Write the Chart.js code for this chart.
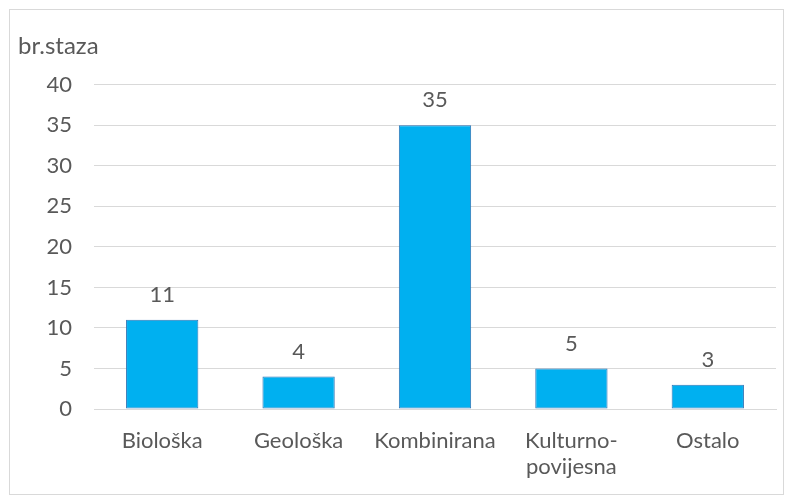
<!DOCTYPE html>
<html>
<head>
<meta charset="utf-8">
<script src="https://cdn.jsdelivr.net/npm/chart.js@4"></script>
<style>
  html, body { margin: 0; padding: 0; background: #fff; }
  #box {
    position: absolute; left: 9px; top: 9px;
    width: 775px; height: 486px;
    border: 1px solid #d9d9d9; box-sizing: border-box;
  }
</style>
</head>
<body>
<div id="box"><canvas id="bar_chart"></canvas></div>
<script>
const categories = ['Biološka', 'Geološka', 'Kombinirana', ['Kulturno-', 'povijesna'], 'Ostalo'];
const brStaza = [11, 4, 35, 5, 3];
const yTicks = [0, 5, 10, 15, 20, 25, 30, 35, 40];

const textColor = '#595959';
const fontFamily = "Lato, 'Open Sans', sans-serif";

// vrijednosti iznad stupaca
const valueLabels = {
    id: 'valueLabels',
    afterDatasetsDraw(chart) {
        const ctx = chart.ctx;
        const meta = chart.getDatasetMeta(0);
        ctx.save();
        ctx.fillStyle = textColor;
        ctx.font = '22px ' + fontFamily;
        ctx.textAlign = 'center';
        ctx.textBaseline = 'middle';
        meta.data.forEach((bar, i) => {
            ctx.fillText(String(brStaza[i]), bar.x, bar.y - 25);
        });
        ctx.restore();
    }
};

const ctx = document.getElementById('bar_chart').getContext('2d');
new Chart(ctx, {
    type: 'bar',
    data: {
        labels: categories,
        datasets: [{
            label: 'br.staza',
            data: brStaza,
            backgroundColor: '#00b0f0',
            borderColor: '#2e75b6',
            borderWidth: 1,
            borderSkipped: false, // rub na sve četiri strane
            barPercentage: 0.53,
            categoryPercentage: 1.0,
        }]
    },
    options: {
        responsive: true,
        maintainAspectRatio: false,
        animation: false,
        layout: { padding: { left: 8, right: 7, top: 0, bottom: 0 } },
        plugins: {
            legend: { display: false },
            tooltip: { enabled: false },
            title: {
                display: true,
                text: 'br.staza',
                align: 'start',
                color: textColor,
                font: { family: fontFamily, size: 24, weight: 'normal', lineHeight: 1.2 },
                padding: { top: 22, bottom: 24 },
            }
        },
        scales: {
            x: {
                afterFit(scale) { scale.height = 85; },
                grid: { display: false, drawTicks: false },
                border: { display: true, color: '#d9d9d9', width: 1 },
                ticks: {
                    color: textColor,
                    font: { family: fontFamily, size: 22, lineHeight: 1.18 },
                    padding: 19,
                    maxRotation: 0,
                    autoSkip: false,
                },
            },
            y: {
                min: 0,
                max: 40,
                afterBuildTicks(scale) {
                    scale.ticks = yTicks.map(v => ({ value: v }));
                },
                afterFit(scale) { scale.width = 76; },
                grid: { color: '#d9d9d9', drawTicks: false },
                border: { display: false },
                ticks: {
                    color: textColor,
                    font: { family: fontFamily, size: 22 },
                    padding: 22,
                },
            }
        }
    },
    plugins: [valueLabels]
});
</script>
</body>
</html>
